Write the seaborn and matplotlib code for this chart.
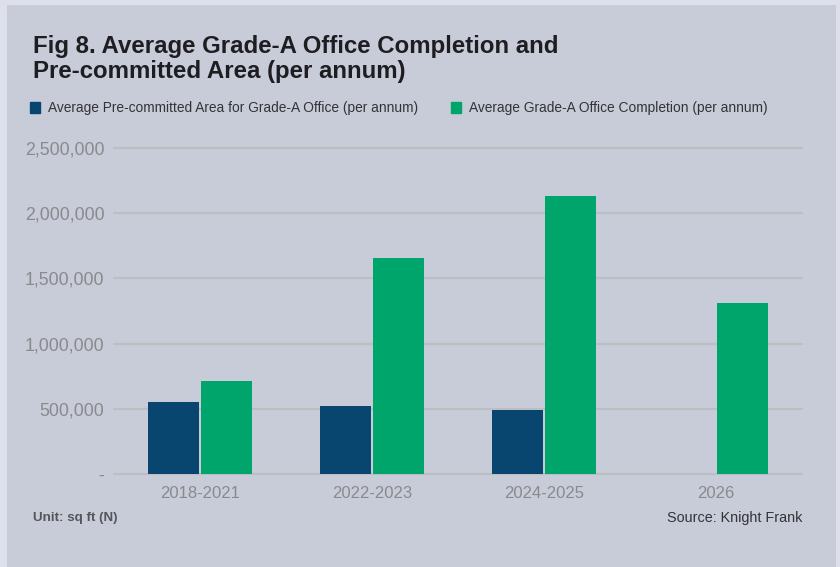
import matplotlib
matplotlib.use("Agg")
import matplotlib.pyplot as plt
import matplotlib.patches as mpatches
import matplotlib.ticker as mticker
import pandas as pd
import seaborn as sb

# chart data
periods = ["2018-2021", "2022-2023", "2024-2025", "2026"]
precommitted = [555000, 520000, 490000, 0]
completion = [715000, 1660000, 2135000, 1310000]
series_names = ["Average Pre-committed Area for Grade-A Office (per annum)",
                "Average Grade-A Office Completion (per annum)"]
y_ticks = [0, 500000, 1000000, 1500000, 2000000, 2500000]

navy = "#08466f"
green = "#00a56b"
panel = "#c8ccd8"

df = pd.DataFrame({
    "period": periods * 2,
    "value": precommitted + completion,
    "series": [series_names[0]] * 4 + [series_names[1]] * 4,
})

sb.set_style("white")
plt.rcParams["font.family"] = ["Liberation Sans", "DejaVu Sans"]

fig = plt.figure(figsize=(8.4, 5.67), dpi=100)
fig.patch.set_facecolor("#dde0ea")
fig.patches.append(mpatches.Rectangle((7 / 840, 0), 829 / 840, 1 - 5 / 567,
                                      transform=fig.transFigure, facecolor=panel,
                                      edgecolor="none", zorder=-10))

ax = fig.add_axes([114 / 840, 1 - 474 / 567, 688 / 840, 326 / 567])
ax.set_facecolor(panel)
sb.barplot(data=df, x="period", y="value", hue="series", palette=[navy, green],
           width=0.62, gap=0.045, saturation=1, linewidth=0, ax=ax, legend=False)

ax.set_ylim(0, 2500000)
ax.set_xlim(-0.5, 3.5)
ax.set_yticks(y_ticks)
ax.yaxis.set_major_formatter(mticker.FuncFormatter(lambda v, p: "-" if v == 0 else f"{int(v):,}"))
ax.grid(axis="y", color="#bdbdc4", linewidth=1.6)
ax.set_axisbelow(True)
for s in ax.spines.values():
    s.set_visible(False)
ax.tick_params(axis="both", length=0, labelsize=12, labelcolor="#8a8a8e")
ax.tick_params(axis="y", pad=7, labelsize=12.8)
ax.tick_params(axis="x", pad=9)
ax.set_xlabel("")
ax.set_ylabel("")
for line in ax.get_ygridlines():
    line.set_clip_on(False)

# title
fig.text(33 / 840, 1 - 59 / 567, "Fig 8. Average Grade-A Office Completion and\nPre-committed Area (per annum)",
         fontsize=17.3, fontweight="bold", color="#1e1e22", va="center", ha="left",
         linespacing=1.08)

handles = [mpatches.Patch(color=navy), mpatches.Patch(color=green)]
fig.legend(handles, series_names, loc="center left", bbox_to_anchor=(18 / 840, 1 - 108 / 567),
           ncol=2, frameon=False, fontsize=9.9, handlelength=0.7, handleheight=0.9,
           handletextpad=0.6, columnspacing=2.4, labelcolor="#333338")

fig.text(33 / 840, 1 - 518 / 567, "Unit: sq ft (N)", fontsize=9.6, fontweight="bold",
         color="#55555a", va="center", ha="left")
fig.text(802 / 840, 1 - 518 / 567, "Source: Knight Frank", fontsize=10.4,
         color="#333338", va="center", ha="right")

fig.savefig("out.png", dpi=100, facecolor=fig.get_facecolor())
